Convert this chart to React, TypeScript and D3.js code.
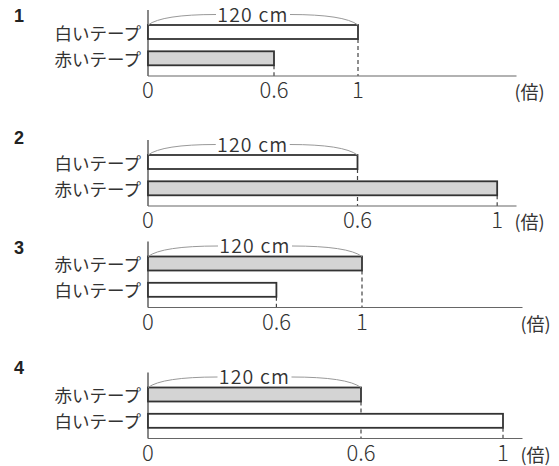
import * as d3 from 'd3';

// tape diagrams: which tape is 120 cm, and how long the other is in 倍
const panelNumbers = ['1', '2', '3', '4'];
const rowLabels = [
  ['白いテープ', '赤いテープ'],
  ['白いテープ', '赤いテープ'],
  ['赤いテープ', '白いテープ'],
  ['赤いテープ', '白いテープ'],
];
const rowValues = [
  [1, 0.6],
  [0.6, 1],
  [1, 0.6],
  [0.6, 1],
];
const tickValues = [0, 0.6, 1];
const tickLabels = ['0', '0.6', '1'];
const refLabel = '120 cm';
const unitLabel = '(倍)';

// per panel placement
const panelTop = [10, 140, 241.5, 372.5];
const numberY = [16, 137.5, 247.5, 368];
const refPx = [210, 209.5, 214, 213];
const axisEnd = [516.5, 516.5, 522.5, 522.5];

const W = 559;
const H = 466;
const X0 = 148;
const BAR_H = 14;
const ROW_OFF = [15, 41.3];
const BASE_OFF = 66;
const TICK_BASELINE = 88; // alphabetic baseline of the 0 / 0.6 / 1 labels
const UNIT_OFF = 81;
const CAP_BASELINE = 11.5;
const CAP_MID = 4.5;
const INK = '#333';
const jp = '"Noto Sans CJK JP", "Noto Sans", sans-serif';

const Panel = ({ idx }: { idx: number }) => {
  const top = panelTop[idx];
  const labels = rowLabels[idx];
  const vals = rowValues[idx];
  const refValue = vals[0];
  const x = d3.scaleLinear().domain([0, refValue]).range([X0, X0 + refPx[idx]]);
  const refEnd = x(refValue);
  const rows = ROW_OFF.map((o) => top + o);
  const base = top + BASE_OFF;
  const capMid = top + CAP_MID;

  const mid = (X0 + refEnd) / 2;
  const capL = mid - 37;
  const capR = mid + 37;
  const brace = d3.path();
  brace.moveTo(X0, rows[0]);
  brace.quadraticCurveTo(X0 + 14, capMid, capL, capMid);
  brace.moveTo(capR, capMid);
  brace.quadraticCurveTo(refEnd - 14, capMid, refEnd, rows[0]);

  return (
    <g>
      <text x={19} y={numberY[idx]} fontFamily='"Liberation Sans", Arial, sans-serif' fontWeight="bold"
        fontSize={18} fill="#222" textAnchor="middle" dominantBaseline="central">{panelNumbers[idx]}</text>

      {/* dashed guides from bar ends down to the number line */}
      {vals.map((v, i) => (
        <line key={'d' + i} x1={x(v)} x2={x(v)} y1={rows[i] + BAR_H} y2={base}
          stroke="#444" strokeWidth={1.2} strokeDasharray="4,3" />
      ))}

      <line x1={X0} x2={X0} y1={top} y2={base} stroke="#555" strokeWidth={1.4} />
      <line x1={X0} x2={axisEnd[idx]} y1={base} y2={base} stroke="#666" strokeWidth={1.2} />

      {vals.map((v, i) => (
        <g key={'b' + i}>
          <rect x={X0} y={rows[i]} width={x(v) - X0} height={BAR_H}
            fill={labels[i].startsWith('赤') ? '#d4d4d4' : '#fff'} stroke={INK} strokeWidth={1.8} />
          <text x={141} y={rows[i] + BAR_H / 2} textAnchor="end" dominantBaseline="central"
            fontFamily={jp} fontSize={17.5} fill={INK}>{labels[i]}</text>
        </g>
      ))}

      <path d={brace.toString()} fill="none" stroke="#999" strokeWidth={1} />
      <text x={mid} y={top + CAP_BASELINE} textAnchor="middle" letterSpacing={1.2}
        fontFamily={jp} fontWeight={350} fontSize={19.5} fill={INK}>{refLabel}</text>

      {tickValues.map((t, i) => (
        <text key={'t' + i} x={x(t)} y={top + TICK_BASELINE} textAnchor="middle"
          fontFamily={jp} fontWeight={300} fontSize={22} fill={INK}>{tickLabels[i]}</text>
      ))}
      <text x={axisEnd[idx] - 2} y={top + UNIT_OFF} dominantBaseline="central"
        fontFamily={jp} fontSize={18} fill={INK}>{unitLabel}</text>
    </g>
  );
};

export default function App() {
  return (
    <svg width={W} height={H} viewBox={`0 0 ${W} ${H}`}
      style={{ position: 'absolute', left: 0, top: 0, background: '#fff' }}>
      <rect width={W} height={H} fill="#fff" />
      {panelTop.map((_, i) => <Panel key={i} idx={i} />)}
    </svg>
  );
}
